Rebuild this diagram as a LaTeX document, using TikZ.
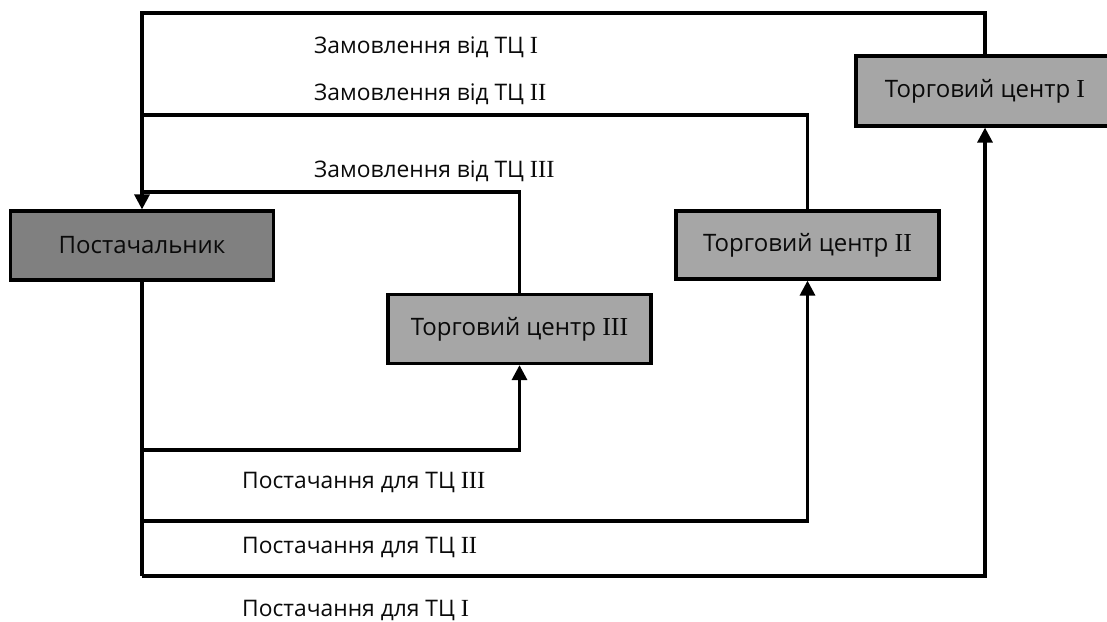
\documentclass[tikz,border=0pt]{standalone}
\usepackage{fontspec}
\setmainfont{Open Sans}
\newfontfamily\numfont[Scale=1.08]{Liberation Serif}
\usetikzlibrary{arrows.meta}
\newcommand{\rnum}[1]{{\numfont #1}}
\definecolor{supgray}{RGB}{128,128,128}
\definecolor{tcgray}{RGB}{166,166,166}
\definecolor{txt}{RGB}{10,10,10}
\tikzset{
  boxnode/.style={draw=black, line width=3.2pt, minimum width=263pt, minimum height=69pt,
    inner sep=0pt, fill=tcgray, text=txt, font=\fontsize{24}{28}\selectfont},
  supbox/.style={boxnode, fill=supgray},
  flow/.style={line width=3.2pt, draw=black},
  arr/.style={flow, -{Triangle[length=15pt,width=15pt]}},
  lbl/.style={anchor=base west, inner sep=0pt, text=txt, font=\fontsize{22.8}{26}\selectfont}
}
\begin{document}
\begin{tikzpicture}[x=1pt,y=-1pt]
\useasboundingbox (0,0) rectangle (1107,621);
\clip (0,0) rectangle (1107,621);
\fill[white] (0,0) rectangle (1107,621);

% boxes
\node[supbox] (sup) at (142,245.5) {Постачальник};
\node[boxnode] (tc3) at (519.5,329) {Торговий центр \rnum{III}};
\node[boxnode, minimum height=68pt] (tc2) at (807.5,245) {Торговий центр \rnum{II}};
\node[boxnode, minimum width=258pt, minimum height=70pt] (tc1) at (985,91) {Торговий центр \rnum{I}};

% junctions
\coordinate (o1) at (142,13);
\coordinate (o2) at (142,115);
\coordinate (o3) at (142,192);
\coordinate (s3) at (142,450);
\coordinate (s2) at (142,521);
\coordinate (s1) at (142,576);

% orders
\draw[arr] (tc1.north) |- (o1) -- (sup.north);
\draw[flow] (tc2.north) |- (o2);
\draw[flow] (tc3.north) |- (o3);

% supplies
\draw[flow] (sup.south) -- (s1);
\draw[arr] (s1) -| (tc1.south);
\draw[arr] (s2) -| (tc2.south);
\draw[arr] (s3) -| (tc3.south);

% labels
\node[lbl] (l1) at (314,53) {Замовлення від ТЦ \rnum{I}};
\node[lbl] (l2) at (314,100) {Замовлення від ТЦ \rnum{II}};
\node[lbl] (l3) at (314,177) {Замовлення від ТЦ \rnum{III}};
\node[lbl] (l4) at (242,488) {Постачання для ТЦ \rnum{III}};
\node[lbl] (l5) at (242,553) {Постачання для ТЦ \rnum{II}};
\node[lbl] (l6) at (242,616) {Постачання для ТЦ \rnum{I}};
\end{tikzpicture}
\end{document}
